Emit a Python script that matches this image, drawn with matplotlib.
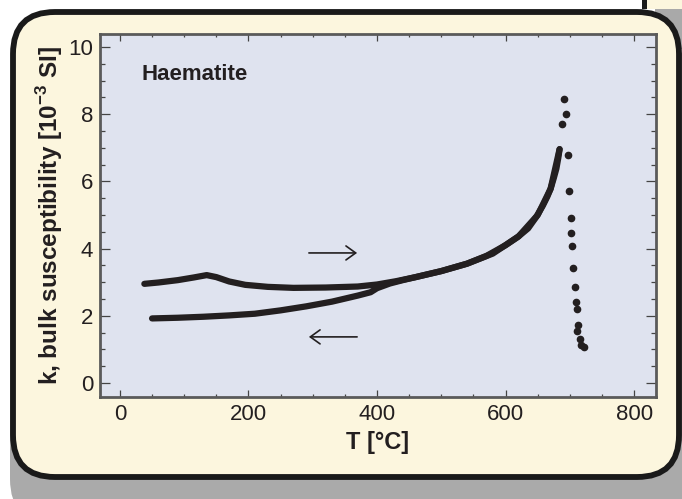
import matplotlib
matplotlib.use("Agg")
import matplotlib.pyplot as plt
from matplotlib.patches import FancyBboxPatch, Rectangle
from matplotlib.ticker import MultipleLocator

plt.rcParams['font.family'] = ['Liberation Sans', 'DejaVu Sans']
plt.rcParams['mathtext.fontset'] = 'custom'
plt.rcParams['mathtext.bf'] = 'Liberation Sans:bold'
plt.rcParams['mathtext.rm'] = 'Liberation Sans'

# heating run (dense part, drawn as a thick trace)
heat_T = [38, 60, 90, 115, 135, 150, 170, 195, 230, 270, 320, 370, 400, 430, 460,
          500, 540, 570, 600, 620, 635, 648, 658, 665, 670, 675, 679, 682, 684]
heat_k = [2.95, 2.99, 3.06, 3.14, 3.21, 3.15, 3.02, 2.92, 2.86, 2.83, 2.84, 2.87, 2.93, 3.03, 3.15,
          3.33, 3.55, 3.78, 4.10, 4.36, 4.60, 4.95, 5.28, 5.55, 5.78, 6.10, 6.38, 6.70, 6.96]

# sparse points around the Hopkinson peak and the drop at the Neel temperature
peak_T = [687.4, 690.6, 694, 696.7, 699.3, 701, 702.5, 703.5, 705.6, 707.7, 709.2,
          711.3, 711.8, 712.8, 715, 718, 721.6]
peak_k = [7.7, 8.45, 8.0, 6.78, 5.7, 4.9, 4.46, 4.09, 3.42, 2.85, 2.4,
          2.19, 1.56, 1.73, 1.3, 1.13, 1.08]

# cooling run
cool_T = [684, 670, 650, 620, 580, 540, 500, 460, 440, 420, 400, 390, 370, 330,
          290, 250, 210, 170, 130, 90, 50]
cool_k = [6.96, 5.78, 5.0, 4.36, 3.85, 3.55, 3.33, 3.15, 3.06, 2.96, 2.82, 2.70, 2.60, 2.42,
          2.28, 2.16, 2.06, 2.01, 1.97, 1.94, 1.92]

ink = '#231f20'
cream = '#fcf6de'
plot_bg = '#dfe3ef'

fig = plt.figure(figsize=(6.82, 4.99), dpi=100)
fig.patch.set_facecolor('white')

# neighbouring panel fragment, top right
fig.patches.append(Rectangle((6.55, 4.50), 0.30, 0.42, transform=fig.dpi_scale_trans,
                             facecolor='#a9a9a9', edgecolor='none', zorder=-5))
fig.patches.append(Rectangle((6.45, 4.90), 0.40, 0.10, transform=fig.dpi_scale_trans,
                             facecolor=cream, edgecolor='none', zorder=-5))
fig.patches.append(Rectangle((6.42, 4.90), 0.045, 0.10, transform=fig.dpi_scale_trans,
                             facecolor='#1a1a1a', edgecolor='none', zorder=-5))

# shadow and frame
fig.patches.append(FancyBboxPatch((0.10, -0.25), 6.95, 4.75,
                                  boxstyle='round,pad=0,rounding_size=0.45',
                                  transform=fig.dpi_scale_trans,
                                  facecolor='#aaaaaa', edgecolor='none', zorder=-4))
fig.patches.append(FancyBboxPatch((0.13, 0.22), 6.66, 4.65,
                                  boxstyle='round,pad=0,rounding_size=0.42',
                                  transform=fig.dpi_scale_trans,
                                  facecolor=cream, edgecolor='#1a1a1a', lw=4.2, zorder=-3))

ax = fig.add_axes([100 / 682, 1 - 397 / 499, 556 / 682, 363 / 499])
ax.set_facecolor(plot_bg)

ax.plot(heat_T, heat_k, color=ink, lw=4.5, solid_capstyle='round', solid_joinstyle='round')
ax.plot(cool_T, cool_k, color=ink, lw=4.5, solid_capstyle='round', solid_joinstyle='round')
ax.plot(peak_T, peak_k, 'o', color=ink, ms=4.5, mec=ink)

ax.annotate('', xy=(369, 3.87), xytext=(294, 3.87),
            arrowprops=dict(arrowstyle='->,head_length=0.5,head_width=0.36',
                            lw=1.2, color=ink, mutation_scale=14, shrinkA=0, shrinkB=0))
ax.annotate('', xy=(294, 1.37), xytext=(369, 1.37),
            arrowprops=dict(arrowstyle='->,head_length=0.5,head_width=0.36',
                            lw=1.2, color=ink, mutation_scale=14, shrinkA=0, shrinkB=0))

ax.text(34, 9.17, 'Haematite', fontsize=16, fontweight='bold', color=ink,
        ha='left', va='center')

ax.set_xlim(-31, 834)
ax.set_ylim(-0.42, 10.39)
ax.xaxis.set_major_locator(MultipleLocator(200))
ax.xaxis.set_minor_locator(MultipleLocator(50))
ax.yaxis.set_major_locator(MultipleLocator(2))
ax.yaxis.set_minor_locator(MultipleLocator(0.5))

ax.tick_params(axis='both', which='both', direction='in', top=True, right=True,
               colors='#444444', labelcolor=ink, labelsize=16, width=0.9)
ax.tick_params(axis='x', which='major', length=5, pad=5)
ax.tick_params(axis='x', which='minor', length=2.5)
ax.tick_params(axis='y', which='major', length=7.5, pad=5)
ax.tick_params(axis='y', which='minor', length=3.6)

for s in ax.spines.values():
    s.set_color('#5a5a5a')
    s.set_linewidth(2)

ax.set_xlabel('T [°C]', fontsize=17, fontweight='bold', color=ink, labelpad=4)
ax.set_ylabel(r'k, bulk susceptibility [10$^{\mathbf{-3}}$ SI]', fontsize=17.5,
              fontweight='bold', color=ink, labelpad=2)

fig.savefig('out.png', dpi=100)
